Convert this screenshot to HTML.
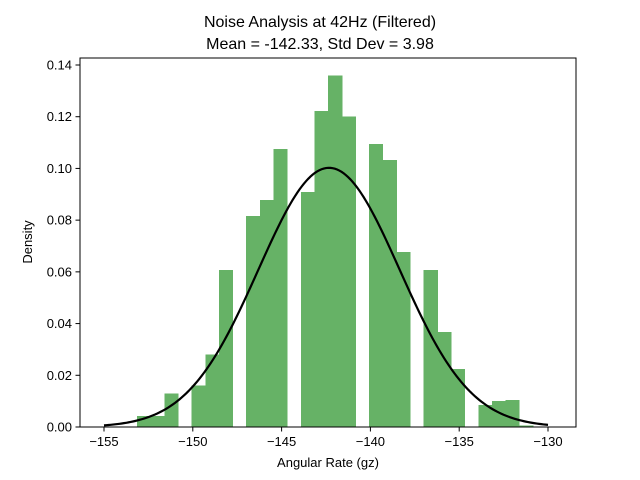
<!DOCTYPE html>
<html><head><meta charset="utf-8"><style>
body{margin:0;background:#fff;}
svg{display:block;font-family:"Liberation Sans","DejaVu Sans",sans-serif;}
</style></head><body>
<svg id="chart" width="640" height="480">
<rect width="640" height="480" fill="#fff"/>
<text x="320" y="27" text-anchor="middle" font-size="16">Noise Analysis at 42Hz (Filtered)</text>
<text x="320" y="49" text-anchor="middle" font-size="16">Mean = -142.33, Std Dev = 3.98</text>
<g id="bars" shape-rendering="crispEdges"></g>
<path id="curve" fill="none" stroke="#000" stroke-width="2.2"/>
<rect x="80" y="58" width="496" height="369" fill="none" stroke="#000" stroke-width="1"/>
<g id="xticks"></g>
<g id="yticks"></g>
<text x="328" y="467" text-anchor="middle" font-size="13">Angular Rate (gz)</text>
<text transform="translate(32,242) rotate(-90)" text-anchor="middle" font-size="13">Density</text>
</svg>
<script>
const binStart = -153.14;
const binWidth = 0.7686;
const densities = [0.0043,0.0043,0.013,0,0.016,0.028,0.0607,0,0.0816,0.0878,0.1075,0,0.0909,0.1222,0.136,0.120,0,0.1094,0.1032,0.0676,0,0.0607,0.0367,0.0224,0,0.0085,0.0100,0.0104,0.0005];
const xTicks = [-155,-150,-145,-140,-135,-130];
const yTicks = [0,0.02,0.04,0.06,0.08,0.10,0.12,0.14];
const yTickLabels = ["0.00","0.02","0.04","0.06","0.08","0.10","0.12","0.14"];
const mean = -142.33, sd = 3.98;
const curveRange = [-155, -130];

const NS = "http://www.w3.org/2000/svg";
const xs = v => 104 + (v + 155) * (444 / 25);
const ys = v => 427 - v * (362 / 0.14);

const bars = document.getElementById('bars');
densities.forEach((d, i) => {
  if (d <= 0) return;
  const x0 = xs(binStart + i * binWidth), x1 = xs(binStart + (i + 1) * binWidth);
  const r = document.createElementNS(NS, 'rect');
  r.setAttribute('x', x0); r.setAttribute('width', x1 - x0 + 0.5);
  r.setAttribute('y', ys(d)); r.setAttribute('height', ys(0) - ys(d));
  r.setAttribute('fill', '#66b266');
  
  
  bars.appendChild(r);
});

let p = '';
for (let k = 0; k <= 200; k++) {
  const v = curveRange[0] + (curveRange[1] - curveRange[0]) * k / 200;
  const y = Math.exp(-0.5 * ((v - mean) / sd) ** 2) / (sd * Math.sqrt(2 * Math.PI));
  p += (k ? 'L' : 'M') + xs(v).toFixed(2) + ',' + ys(y).toFixed(2);
}
document.getElementById('curve').setAttribute('d', p);

const xg = document.getElementById('xticks');
xTicks.forEach(t => {
  const l = document.createElementNS(NS, 'line');
  l.setAttribute('x1', xs(t)); l.setAttribute('x2', xs(t));
  l.setAttribute('y1', 427); l.setAttribute('y2', 431.5);
  l.setAttribute('stroke', '#000');
  
  
  xg.appendChild(l);
  const tx = document.createElementNS(NS, 'text');
  tx.setAttribute('x', xs(t)); tx.setAttribute('y', 446);
  tx.setAttribute('text-anchor', 'middle'); tx.setAttribute('font-size', '13');
  tx.textContent = '\u2212' + Math.abs(t);
  
  
  xg.appendChild(tx);
});
const yg = document.getElementById('yticks');
yTicks.forEach((t, i) => {
  const l = document.createElementNS(NS, 'line');
  l.setAttribute('x1', 75.5); l.setAttribute('x2', 80);
  l.setAttribute('y1', ys(t)); l.setAttribute('y2', ys(t));
  l.setAttribute('stroke', '#000');
  
  
  yg.appendChild(l);
  const tx = document.createElementNS(NS, 'text');
  tx.setAttribute('x', 72); tx.setAttribute('y', ys(t) + 4.5);
  tx.setAttribute('text-anchor', 'end'); tx.setAttribute('font-size', '13');
  tx.textContent = yTickLabels[i];
  
  
  yg.appendChild(tx);
});
</script>
</body></html>
